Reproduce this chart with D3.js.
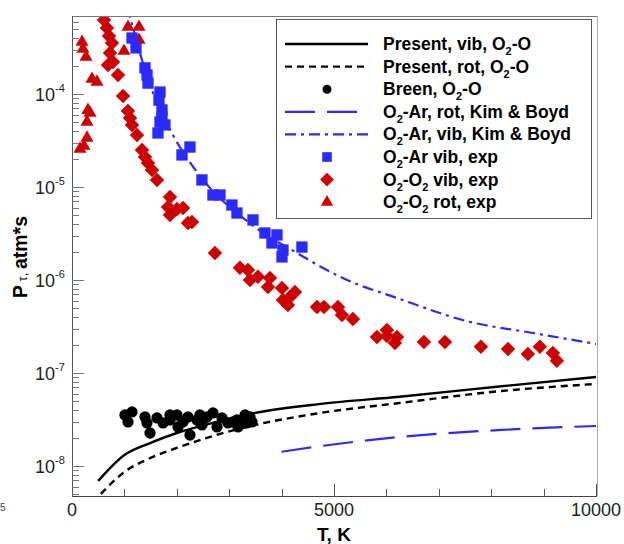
<!DOCTYPE html>
<html>
<head>
<meta charset="utf-8">
<script src="https://cdn.jsdelivr.net/npm/d3@7"></script>
<style>
    body { margin: 0; background: #fff; }
    svg { display: block; font-family: 'Liberation Sans', Arial, sans-serif; }
</style>
</head>
<body>
<svg width="624" height="544"></svg>
<script>
// [T (K), P*tau (atm*s)]
const presentVib = [[500, 6.9e-9], [1000, 1.31e-8], [1500, 1.77e-8], [2000, 2.26e-8],
        [2750, 2.97e-8], [3500, 3.72e-8], [4750, 4.65e-8], [6250, 5.55e-8],
        [8200, 7.2e-8], [10000, 9.06e-8]];
const presentRot = [[550, 5.0e-9], [1000, 8.6e-9], [1500, 1.22e-8], [2000, 1.56e-8],
        [2750, 2.15e-8], [3500, 2.76e-8], [4750, 3.72e-8], [6250, 4.75e-8],
        [8200, 6.4e-8], [10000, 7.62e-8]];
const kimBoydRot = [[4000, 1.42e-8], [4350, 1.52e-8], [6250, 2.05e-8], [8200, 2.44e-8],
        [10000, 2.69e-8]];
const kimBoydVib = [[1050, 8.6e-4], [1107, 6.73e-4], [1336, 2.32e-4], [1546, 1.03e-4],
        [1927, 3.62e-5], [2385, 1.45e-5], [3359, 4.21e-6], [4294, 1.95e-6],
        [5248, 1.0e-6], [6202, 6.4e-7], [7538, 3.6e-7], [8798, 2.69e-7], [10000, 2.05e-7]];

const breen = [[1011, 3.53e-8], [1145, 3.81e-8], [1069, 2.97e-8], [1393, 3.36e-8],
        [1431, 2.90e-8], [1489, 2.26e-8], [1622, 3.28e-8], [1737, 2.90e-8],
        [1870, 3.12e-8], [2004, 3.53e-8], [2023, 2.63e-8], [2118, 2.97e-8],
        [2214, 3.36e-8], [2252, 2.15e-8], [2385, 3.12e-8], [2481, 2.76e-8],
        [2576, 3.36e-8], [2691, 3.72e-8], [2767, 2.63e-8], [2863, 3.28e-8],
        [2977, 2.90e-8], [3073, 2.97e-8], [3168, 2.63e-8], [3302, 3.53e-8],
        [3340, 2.90e-8], [3435, 2.97e-8], [1870, 3.53e-8], [2442, 3.53e-8],
        [3148, 3.12e-8], [3396, 3.36e-8]];
const arVibExp = [[1145, 4.0e-4], [1221, 3.13e-4], [1393, 1.91e-4], [1431, 1.60e-4],
        [1450, 1.31e-4], [1679, 1.05e-4], [1660, 8.6e-5], [1717, 6.73e-5],
        [1717, 5.66e-5], [1679, 5.0e-5], [1774, 4.65e-5], [1641, 3.81e-5],
        [2251, 2.69e-5], [2099, 2.21e-5], [2480, 1.19e-5], [2690, 8.2e-6],
        [2824, 8.2e-6], [3052, 6.4e-6], [3148, 5.25e-6], [3454, 4.42e-6],
        [3682, 3.2e-6], [3911, 3.05e-6], [3816, 2.5e-6], [4026, 2.10e-6],
        [4007, 1.77e-6], [4388, 2.26e-6]];
const o2VibExp = [[611, 6.25e-4], [668, 5.13e-4], [706, 4.21e-4], [763, 3.53e-4],
        [725, 2.76e-4], [782, 2.21e-4], [687, 2.05e-4], [878, 1.60e-4],
        [973, 9.5e-5], [1068, 6.56e-5], [1107, 5.52e-5], [1145, 4.65e-5],
        [1240, 3.62e-5], [1336, 2.50e-5], [1393, 2.10e-5], [1450, 1.81e-5],
        [1527, 1.52e-5], [1622, 1.19e-5], [1870, 7.8e-6], [1832, 6.09e-6],
        [1870, 5.0e-6], [2004, 5.8e-6], [2118, 5.94e-6], [2214, 4.1e-6],
        [2290, 4.21e-6], [2728, 1.95e-6], [3205, 1.35e-6], [3358, 1.28e-6],
        [3396, 1.0e-6], [3549, 1.08e-6], [3778, 1.05e-6], [3740, 8.4e-7],
        [4007, 8.2e-7], [4026, 6.1e-7], [4159, 6.56e-7], [4255, 7.43e-7],
        [4121, 5.38e-7], [4675, 5.13e-7], [4808, 5.13e-7], [5075, 5.13e-7],
        [5152, 4.21e-7], [5361, 3.81e-7], [5819, 2.44e-7], [6010, 2.90e-7],
        [6010, 2.50e-7], [6201, 2.44e-7], [6163, 2.10e-7], [6716, 2.15e-7],
        [7117, 2.15e-7], [7804, 1.91e-7], [8319, 1.81e-7], [8700, 1.60e-7],
        [8929, 1.91e-7], [9177, 1.64e-7], [9254, 1.35e-7]];
const o2RotExp = [[191, 3.62e-4], [210, 3.05e-4], [267, 2.50e-4], [382, 1.45e-4],
        [477, 1.35e-4], [305, 6.7e-5], [344, 6.25e-5], [286, 5.0e-5],
        [286, 3.37e-5], [153, 2.56e-5], [229, 2.76e-5], [1069, 5.25e-4],
        [1279, 5.25e-4], [1279, 3.81e-4], [992, 2.9e-4]];

const xMajorTicks = [0, 5000, 10000];
const xMinorTicks = [1000, 2000, 3000, 4000, 6000, 7000, 8000, 9000];
const yMajorTicks = [1e-8, 1e-7, 1e-6, 1e-5, 1e-4];
const yTickExponents = ['-8', '-7', '-6', '-5', '-4'];

const legendLabels = ['Present, vib, O2-O', 'Present, rot, O2-O', 'Breen, O2-O',
        'O2-Ar, rot, Kim & Boyd', 'O2-Ar, vib, Kim & Boyd', 'O2-Ar vib, exp',
        'O2-O2 vib, exp', 'O2-O2 rot, exp'];

(() => {
    const svg = d3.select('svg');

    const x = d3.scaleLinear()
            .domain([0, 10000])
            .range([72, 596]);
    const y = d3.scaleLog()
            .domain([4.75e-9, 6.9e-4])
            .range([496, 16]);

    const blue = '#2a2aff',
            red = '#d00000';

    // marker shapes
    const square = d3.symbol().type(d3.symbolSquare).size(128)(),
            diamond = d3.symbol().type(d3.symbolSquare).size(105)(),
            triangle = d3.symbol().type(d3.symbolTriangle).size(74)(),
            circle = d3.symbol().type(d3.symbolCircle).size(100)();

    const lineStyles = [
        { data: presentVib, color: '#000', width: 2.4, dash: null },
        { data: presentRot, color: '#000', width: 2.4, dash: '7,5' },
        { data: kimBoydRot, color: blue, width: 2.2, dash: '30,12' },
        { data: kimBoydVib, color: blue, width: 2.2, dash: '11,5,3,5' }
    ];

    svg.append('clipPath')
            .attr('id', 'plot-clip')
            .append('rect')
            .attr('x', 72)
            .attr('y', 16)
            .attr('width', 524)
            .attr('height', 480);

    const plot = svg.append('g')
            .attr('clip-path', 'url(#plot-clip)');

    const line = d3.line()
            .x(d => x(d[0]))
            .y(d => y(d[1]))
            .curve(d3.curveMonotoneX);

    plot.selectAll('path.curve')
            .data(lineStyles)
            .enter().append('path')
            .attr('class', 'curve')
            .attr('d', d => line(d.data))
            .attr('fill', 'none')
            .attr('stroke', d => d.color)
            .attr('stroke-width', d => d.width)
            .attr('stroke-dasharray', d => d.dash);

    const drawPoints = (data, shape, color, rotate) => {
        plot.append('g')
                .selectAll('path')
                .data(data)
                .enter().append('path')
                .attr('d', shape)
                .attr('fill', color)
                .attr('transform', d => `translate(${x(d[0])},${y(d[1])})` + (rotate ? ' rotate(45)' : ''));
    };

    drawPoints(breen, circle, '#000', false);
    drawPoints(o2RotExp, triangle, red, false);
    drawPoints(o2VibExp, diamond, red, true);
    drawPoints(arVibExp, square, blue, false);

    // frame
    svg.append('line')
            .attr('x1', 72).attr('x2', 597)
            .attr('y1', 16.5).attr('y2', 16.5)
            .attr('stroke', '#777');
    svg.append('line')
            .attr('x1', 597.5).attr('x2', 597.5)
            .attr('y1', 16).attr('y2', 496)
            .attr('stroke', '#aaa');
    svg.append('line')
            .attr('x1', 72.5).attr('x2', 72.5)
            .attr('y1', 16).attr('y2', 496)
            .attr('stroke', '#555');
    svg.append('line')
            .attr('x1', 72).attr('x2', 597)
            .attr('y1', 496.5).attr('y2', 496.5)
            .attr('stroke', '#444');

    // x ticks point inward
    const xTicks = xMajorTicks.map(v => [v, 12]).concat(xMinorTicks.map(v => [v, 7]));
    svg.append('g')
            .selectAll('line')
            .data(xTicks)
            .enter().append('line')
            .attr('x1', d => Math.round(x(d[0])) + 0.5)
            .attr('x2', d => Math.round(x(d[0])) + 0.5)
            .attr('y1', 496)
            .attr('y2', d => 496 - d[1])
            .attr('stroke', '#555');

    svg.append('g')
            .selectAll('text')
            .data(xMajorTicks)
            .enter().append('text')
            .attr('x', d => x(d))
            .attr('y', 516)
            .attr('text-anchor', 'middle')
            .attr('font-size', 18)
            .attr('fill', '#222')
            .text(d => d);

    svg.append('text')
            .attr('x', 334)
            .attr('y', 541)
            .attr('text-anchor', 'middle')
            .attr('font-size', 19)
            .attr('font-weight', 'bold')
            .text('T, K');

    // y ticks: decades plus 2..9 minors
    const yMinorTicks = [];
    d3.range(-9, -3).forEach(e => {
        d3.range(2, 10).forEach(m => {
            const v = m * Math.pow(10, e);
            if (v > y.domain()[0] && v < y.domain()[1]) {
                yMinorTicks.push(v);
            }
        });
    });
    const yTicks = yMajorTicks.map(v => [v, 12]).concat(yMinorTicks.map(v => [v, 7]));
    svg.append('g')
            .selectAll('line')
            .data(yTicks)
            .enter().append('line')
            .attr('x1', 72)
            .attr('x2', d => 72 + d[1])
            .attr('y1', d => Math.round(y(d[0])) + 0.5)
            .attr('y2', d => Math.round(y(d[0])) + 0.5)
            .attr('stroke', '#777');

    const yLabel = svg.append('g')
            .selectAll('text')
            .data(yMajorTicks)
            .enter().append('text')
            .attr('x', 35)
            .attr('y', d => y(d) + 7)
            .attr('font-size', 18)
            .attr('fill', '#222');
    yLabel.append('tspan').text('10');
    yLabel.append('tspan')
            .attr('font-size', 11)
            .attr('dy', -9)
            .text((d, i) => yTickExponents[i]);

    // cut-off label fragment at the lower left
    svg.append('text')
            .attr('x', 0)
            .attr('y', 511)
            .attr('font-size', 10)
            .attr('fill', '#444')
            .text('5');

    const title = svg.append('text')
            .attr('transform', 'translate(27,257) rotate(-90)')
            .attr('text-anchor', 'middle')
            .attr('font-size', 19.5)
            .attr('font-weight', 'bold');
    title.append('tspan').text('P');
    title.append('tspan')
            .attr('font-size', 13)
            .attr('font-weight', 'normal')
            .text(' \u03c4, ');
    title.append('tspan').text('atm*s');

    // legend
    const legend = svg.append('g');
    legend.append('rect')
            .attr('x', 276.5)
            .attr('y', 19.5)
            .attr('width', 315)
            .attr('height', 199)
            .attr('fill', '#fff')
            .attr('stroke', '#555');

    const rowY = i => 44 + i * 22.6;
    const legendMarks = [
        { line: lineStyles[0] }, { line: lineStyles[1] },
        { shape: circle, color: '#000', size: 0.8 },
        { line: lineStyles[2] }, { line: lineStyles[3] },
        { shape: square, color: blue, size: 0.85 },
        { shape: diamond, color: red, size: 0.95, rotate: true },
        { shape: triangle, color: red, size: 0.95 }
    ];

    legendMarks.forEach((m, i) => {
        if (m.line) {
            legend.append('line')
                    .attr('x1', 285).attr('x2', 368)
                    .attr('y1', rowY(i)).attr('y2', rowY(i))
                    .attr('stroke', m.line.color)
                    .attr('stroke-width', m.line.width)
                    .attr('stroke-dasharray', m.line.dash);
        } else {
            legend.append('path')
                    .attr('d', m.shape)
                    .attr('fill', m.color)
                    .attr('transform', `translate(327,${rowY(i)}) scale(${m.size})` + (m.rotate ? ' rotate(45)' : ''));
        }
    });

    legendLabels.forEach((label, i) => {
        const t = legend.append('text')
                .attr('x', 383)
                .attr('y', rowY(i) + 6)
                .attr('font-size', 17.5)
                .attr('font-weight', 'bold');
        let lowered = false;
        label.split('O2').forEach((part, j, parts) => {
            if (part) {
                t.append('tspan')
                        .attr('dy', lowered ? -5 : null)
                        .text(part);
                lowered = false;
            }
            if (j < parts.length - 1) {
                t.append('tspan')
                        .attr('dy', lowered ? -5 : null)
                        .text('O');
                t.append('tspan')
                        .attr('font-size', 11)
                        .attr('dy', 5)
                        .text('2');
                lowered = true;
            }
        });
    });
})();
</script>
</body>
</html>
